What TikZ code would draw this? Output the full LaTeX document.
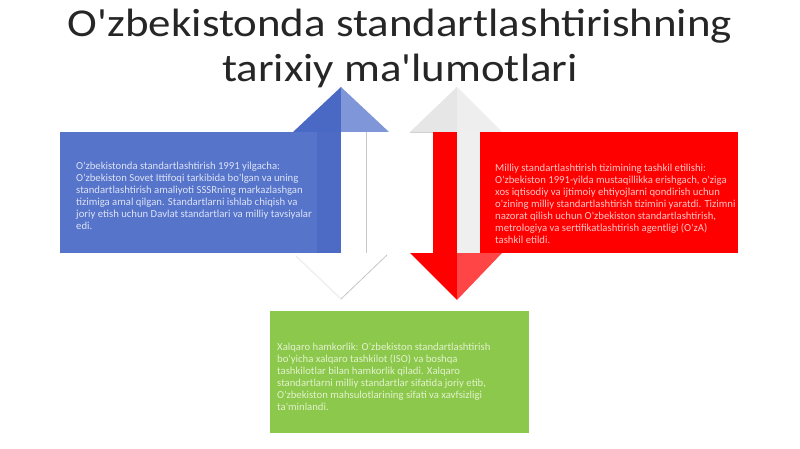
\documentclass[tikz,border=0pt]{standalone}
\usepackage{fontspec}
\usepackage{graphicx}
\setmainfont{Carlito}
\newcommand\apo{\textquotesingle}
\definecolor{bluemain}{HTML}{5674CA}
\definecolor{bluestrip}{HTML}{4D6AC5}
\definecolor{bluehl}{HTML}{4A69C4}
\definecolor{bluehr}{HTML}{7F97D8}
\definecolor{bluetxt}{HTML}{DCE3F6}
\definecolor{redmain}{HTML}{FF0000}
\definecolor{redhr}{HTML}{FF4545}
\definecolor{redtxt}{HTML}{FFC4C4}
\definecolor{greenmain}{HTML}{8CC84B}
\definecolor{greentxt}{HTML}{E2F2CE}
\definecolor{lightshaft}{HTML}{EFEFEF}
\definecolor{lighthead}{HTML}{EEEEEE}
\definecolor{lighthead2}{HTML}{E6E6E6}
\definecolor{titlecol}{HTML}{262626}
\begin{document}
\begin{tikzpicture}[x=1pt,y=-1pt,
  panel/.style={draw=none,inner sep=0pt,anchor=north west},
  bodytext/.style={inner sep=0pt,anchor=north west,align=left,font=\fontsize{10.7}{12}\selectfont},
  edgeline/.style={draw=gray!45,line width=0.8pt}]
\useasboundingbox (0,0) rectangle (800,449);
\fill[white] (0,0) rectangle (800,449);

% title
\node[inner sep=0pt,anchor=base,text=titlecol,
  font=\fontsize{39.5}{45}\selectfont] (title) at (400,37)
  {\scalebox{1.137}[1]{\begin{tabular}[t]{@{}c@{}}O\apo zbekistonda standartlashtirishning\\tarixiy ma\apo lumotlari\end{tabular}}};

% ---- blue block with up arrow ----
\node[panel,fill=bluemain,minimum width=281pt,minimum height=121pt] (bluebox) at (60,132) {};
\fill[bluestrip] (317,132) rectangle (341,253);
\fill[bluehl] (293,132) -- (341,87) -- (341,132) -- cycle;
\fill[bluehr] (341,87) -- (389,132) -- (341,132) -- cycle;
\fill[white] (341,132) rectangle (366,253);
\draw[edgeline] (366,132) -- (366,253);
\fill[white] (293,253) -- (389,253) -- (341,300) -- cycle;
\draw[gray!12,line width=1.5pt] (296,256) -- (341,299);
\draw[edgeline] (387,255) -- (341,299);

% ---- red block with down arrow ----
\fill[lighthead2] (410,132) -- (457,87) -- (457,132) -- cycle;
\fill[lighthead] (457,87) -- (502,132) -- (457,132) -- cycle;
\draw[gray!35,line width=0.6pt] (410,132) -- (433,132);
\fill[redmain] (433,132) rectangle (457,253);
\fill[lightshaft] (457,132) rectangle (480,253);
\node[panel,fill=redmain,minimum width=258pt,minimum height=121pt] (redbox) at (480,132) {};
\fill[redmain] (410,253) -- (457,253) -- (457,300) -- cycle;
\fill[redhr] (457,253) -- (502,253) -- (457,300) -- cycle;

% ---- green block ----
\node[panel,fill=greenmain,minimum width=259pt,minimum height=122pt] (greenbox) at (270,311) {};

% texts
\node[bodytext,text=bluetxt] (bluetext) at (76,161.5) {O\apo zbekistonda standartlashtirish 1991 yilgacha:\\
O\apo zbekiston Sovet Ittifoqi tarkibida bo\apo lgan va uning\\
standartlashtirish amaliyoti SSSRning markazlashgan\\
tizimiga amal qilgan. Standartlarni ishlab chiqish va\\
joriy etish uchun Davlat standartlari va milliy tavsiyalar\\
edi.};

\node[bodytext,text=redtxt] (redtext) at (495,163.5) {Milliy standartlashtirish tizimining tashkil etilishi:\\
O\apo zbekiston 1991-yilda mustaqillikka erishgach, o\apo ziga\\
xos iqtisodiy va ijtimoiy ehtiyojlarni qondirish uchun\\
o\apo zining milliy standartlashtirish tizimini yaratdi. Tizimni\\
nazorat qilish uchun O\apo zbekiston standartlashtirish,\\
metrologiya va sertifikatlashtirish agentligi (O\apo zA)\\
tashkil etildi.};

\node[bodytext,text=greentxt] (greentext) at (277,342.5) {Xalqaro hamkorlik: O\apo zbekiston standartlashtirish\\
bo\apo yicha xalqaro tashkilot (ISO) va boshqa\\
tashkilotlar bilan hamkorlik qiladi. Xalqaro\\
standartlarni milliy standartlar sifatida joriy etib,\\
O\apo zbekiston mahsulotlarining sifati va xavfsizligi\\
ta\apo minlandi.};
\end{tikzpicture}
\end{document}
